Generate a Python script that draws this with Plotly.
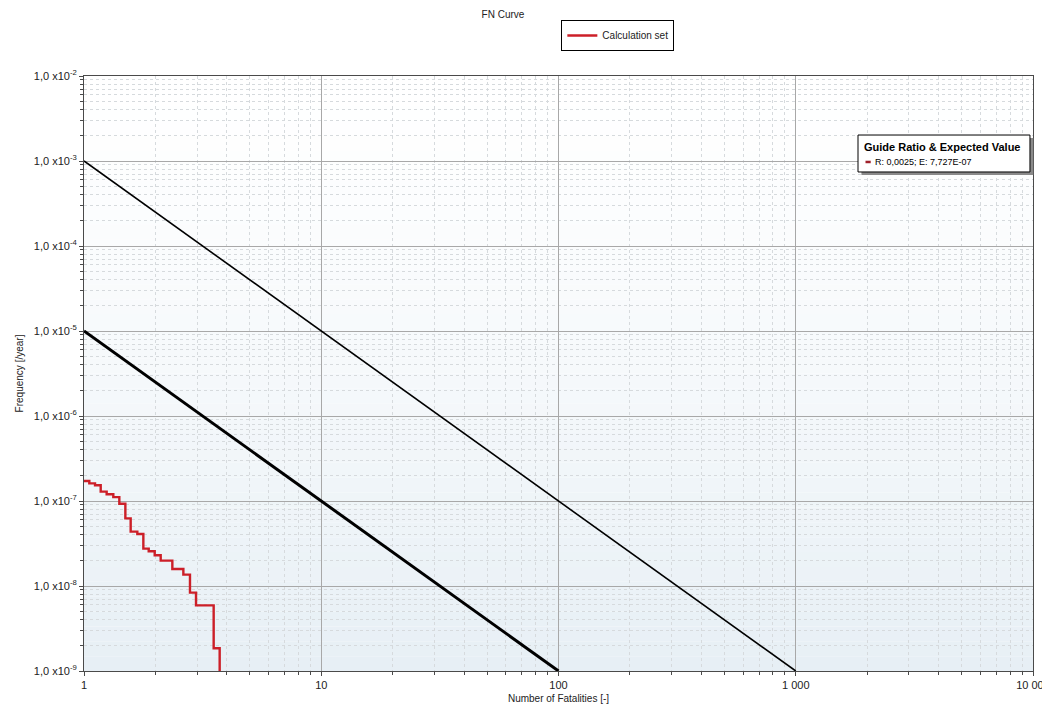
import plotly.graph_objects as go

# ---- data ----
fatal_steps = [1.0, 1.053, 1.113, 1.176, 1.246, 1.329, 1.409, 1.494, 1.573, 1.678,
               1.779, 1.874, 1.986, 2.105, 2.357, 2.623, 2.797, 2.966, 3.520, 3.731]
freq_steps = [1.72e-7, 1.61e-7, 1.53e-7, 1.29e-7, 1.20e-7, 1.11e-7, 9.3e-8, 6.25e-8,
              4.36e-8, 4.09e-8, 2.75e-8, 2.56e-8, 2.30e-8, 1.99e-8, 1.585e-8, 1.36e-8,
              8.35e-9, 5.92e-9, 1.85e-9, 1e-10]

upper_x = [1, 1000]
upper_y = [1e-3, 1e-9]
lower_x = [1, 100]
lower_y = [1e-5, 1e-9]

x_tickvals = [1, 10, 100, 1000, 10000]
x_ticktext = ["1", "10", "100", "1 000", "10 000"]
y_exponents = [-9, -8, -7, -6, -5, -4, -3, -2]

FONT = "Liberation Sans, Arial, sans-serif"

y_tickvals = [10.0 ** e for e in y_exponents]
y_ticktext = ["1,0 x10<sup>%d</sup>" % e for e in y_exponents]

x_minor = [k * 10.0 ** n for n in range(0, 4) for k in range(2, 10)]
y_minor = [k * 10.0 ** n for n in range(-9, -2) for k in range(2, 10)]

fig = go.Figure()

fig.add_trace(go.Scatter(x=upper_x, y=upper_y, mode="lines",
                         line=dict(color="#000000", width=1.6), showlegend=False,
                         hoverinfo="skip"))
fig.add_trace(go.Scatter(x=lower_x, y=lower_y, mode="lines",
                         line=dict(color="#000000", width=3), showlegend=False,
                         hoverinfo="skip"))
fig.add_trace(go.Scatter(x=fatal_steps, y=freq_steps, mode="lines",
                         line=dict(color="#cc1f28", width=2.4, shape="hv"),
                         name="Calculation set"))

# background gradient bands (white at top -> light blue-grey at bottom)
n_bands = 40
shapes = []
for i in range(n_bands):
    t = (i / (n_bands - 1)) ** 1.3
    r = int(round(255 + (231 - 255) * t))
    g = int(round(255 + (239 - 255) * t))
    b = int(round(255 + (245 - 255) * t))
    y1 = 1 - i / n_bands
    y0 = 1 - (i + 1) / n_bands
    shapes.append(dict(type="rect", xref="x domain", yref="y domain",
                       x0=0, x1=1, y0=y0, y1=y1, layer="below",
                       line=dict(width=0), fillcolor="rgb(%d,%d,%d)" % (r, g, b)))

# guide ratio box with shadow
shapes.append(dict(type="rect", xref="paper", yref="paper",
                   x0=0.8192, x1=1.0003, y0=0.8336, y1=0.8958, layer="above",
                   line=dict(width=0), fillcolor="#8a8a8a"))
shapes.append(dict(type="rect", xref="paper", yref="paper",
                   x0=0.8156, x1=0.9968, y0=0.8387, y1=0.9008, layer="above",
                   line=dict(width=1, color="#000000"), fillcolor="#ffffff"))
shapes.append(dict(type="line", xref="paper", yref="paper",
                   x0=0.8235, x1=0.8290, y0=0.8555, y1=0.8555, layer="above",
                   line=dict(width=2.5, color="#a0202a")))

annotations = [
    dict(text="<b>Guide Ratio &amp; Expected Value</b>", xref="paper", yref="paper",
         x=0.8198, y=0.8800, xanchor="left", yanchor="middle", showarrow=False,
         font=dict(family=FONT, size=11, color="#000000")),
    dict(text="R: 0,0025; E: 7,727E-07", xref="paper", yref="paper",
         x=0.8310, y=0.8555, xanchor="left", yanchor="middle", showarrow=False,
         font=dict(family=FONT, size=9, color="#000000")),
]

axis_common = dict(
    type="log",
    showline=True, linecolor="#4a4a4a", linewidth=1, mirror=True,
    showgrid=True, gridcolor="#a8a8a8", gridwidth=1,
    ticks="outside", ticklen=4, tickcolor="#4a4a4a",
    tickfont=dict(family=FONT, size=11, color="#222222"),
    zeroline=False, automargin=False,
)

# the page body adds an 8px offset, so the figure is 8px smaller on each side
fig.update_layout(
    width=1042, height=696,
    margin=dict(l=76, r=17, t=68, b=33, autoexpand=False),
    paper_bgcolor="#ffffff", plot_bgcolor="#ffffff",
    font=dict(family=FONT, size=10, color="#222222"),
    title=dict(text="FN Curve", x=0.475, xanchor="center", y=0.99, yanchor="middle",
               yref="container", font=dict(family=FONT, size=10, color="#222222")),
    legend=dict(x=0.503, y=1.094, xanchor="left", yanchor="top",
                bgcolor="#ffffff", bordercolor="#000000", borderwidth=1,
                font=dict(family=FONT, size=10, color="#222222"),
                itemwidth=30, tracegroupgap=0),
    shapes=shapes,
    annotations=annotations,
    xaxis=dict(axis_common, range=[0, 4], tickmode="array",
               tickvals=x_tickvals, ticktext=x_ticktext,
               minor=dict(tickmode="array", tickvals=x_minor, ticks="outside",
                          ticklen=3, tickcolor="#4a4a4a", showgrid=True,
                          gridcolor="#d6dadd", griddash="dot", gridwidth=1),
               title=dict(text="Number of Fatalities [-]", standoff=6,
                          font=dict(family=FONT, size=10, color="#222222"))),
    yaxis=dict(axis_common, range=[-9, -2], tickmode="array",
               tickvals=y_tickvals, ticktext=y_ticktext,
               minor=dict(tickmode="array", tickvals=y_minor, ticks="outside",
                          ticklen=3, tickcolor="#4a4a4a", showgrid=True,
                          gridcolor="#d6dadd", griddash="dot", gridwidth=1),
               title=dict(text="Frequency [/year]", standoff=8,
                          font=dict(family=FONT, size=10, color="#222222"))),
)

fig.write_html("out.html")
